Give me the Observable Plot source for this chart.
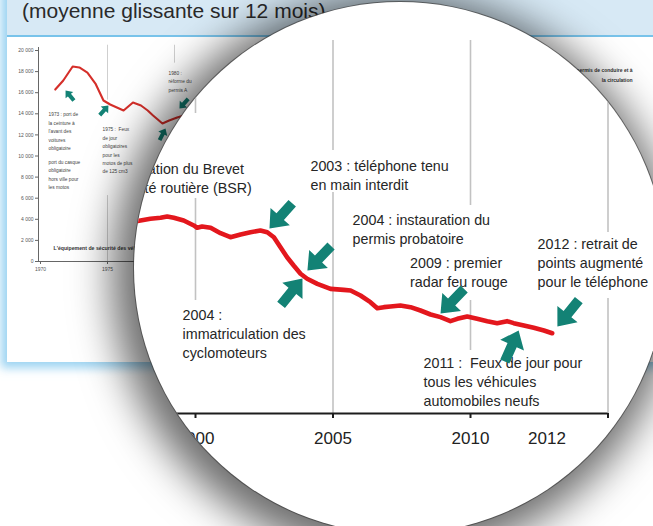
<!DOCTYPE html>
<html>
<head>
<meta charset="utf-8">
<script src="https://cdn.jsdelivr.net/npm/d3@7"></script>
<script src="https://cdn.jsdelivr.net/npm/@observablehq/plot@0.6"></script>
<style>
  html, body { margin: 0; padding: 0; background: #fff; overflow: hidden; }
  #stage { position: relative; width: 653px; height: 526px; overflow: hidden; font-family: "Liberation Sans", Arial, sans-serif; background: #fff; }
  #panel { position: absolute; left: 7px; top: -10px; width: 700px; height: 372px; background: #fff; box-shadow: 0 0 9px 6px rgba(140, 205, 240, 0.85); }
  #band { position: absolute; left: 0; top: 0; width: 700px; height: 45px; background: #d7e9f5; border-bottom: 2px solid #78c3ea; }
  #title { position: absolute; left: 22px; top: 0px; font-size: 21px; line-height: 21px; color: #2a2a2a; white-space: nowrap; }
  #small { position: absolute; left: 0; top: 0; }
  #lens { position: absolute; left: 134px; top: 2px; width: 532px; height: 532px; border-radius: 50%; overflow: hidden; background: #fff;
          box-shadow: 0 0 0 1px rgba(60,60,60,0.65), -6px 8px 42px 16px rgba(0,0,0,0.58); }
  #big { position: absolute; left: -134px; top: -2px; }
</style>
</head>
<body>
<div id="stage">
  <div id="panel"><div id="band"></div></div>
  <div id="small"></div>
  <div id="title">(moyenne glissante sur 12 mois)</div>
  <div id="lens"><div id="big"></div></div>
</div>
<script>
// ---------- background (small) chart data ----------
const smallYears  = [1971.1, 1971.7, 1972.4, 1972.9, 1973.5, 1974.1, 1974.7, 1975.2, 1975.7, 1976.2, 1976.9, 1977.5, 1978.0, 1978.4, 1979.1, 1979.6, 1980.2, 1980.7];
const smallDeaths = [16300, 17160, 18480, 18390, 17910, 16870, 15260, 14880, 14600, 14310, 15070, 14790, 14310, 13840, 13080, 13360, 13650, 13840];
const smallYTicks = [0, 2000, 4000, 6000, 8000, 10000, 12000, 14000, 16000, 18000, 20000];
const smallXTicks = [1970, 1975];
const smallGridYears = [1975, 1975, 1980];
const smallGridFrom  = [20500, 6250, 20500];
const smallGridTo    = [15300, 0, 18800];
const smallNoteTexts = [
  "1973 : port de\nla ceinture à\nl'avant des\nvoitures\nobligatoire",
  "port du casque\nobligatoire\nhors ville pour\nles motos",
  "1975 :  Feux\nde jour\nobligatoires\npour les\nmotos de plus\nde 125 cm3",
  "1980 :\nréforme du\npermis A"
];
const smallNoteYears  = [1970.6, 1970.6, 1974.63, 1979.55];
const smallNoteValues = [14313, 9800, 12891, 18265];
const smallArrowYears  = [1971.87, 1975.07, 1980.37, 1979.33];
const smallArrowValues = [16209, 14787, 14502, 12607];
const smallArrowAngles = [320, 42, 222, 27];

// ---------- magnified chart data ----------
const bigYears = [1997.8, 1998.0, 1998.36, 1998.73, 1998.97, 1999.21, 1999.57, 1999.94, 2000.06, 2000.24, 2000.55, 2000.91,
  2001.27, 2001.64, 2002.0, 2002.36, 2002.61, 2002.85, 2003.09, 2003.33, 2003.57, 2003.82, 2004.06, 2004.43, 2004.91,
  2005.39, 2005.64, 2006.0, 2006.36, 2006.61, 2006.85, 2007.09, 2007.45, 2007.82, 2008.18, 2008.55, 2008.91, 2009.27,
  2009.52, 2009.88, 2010.24, 2010.61, 2010.97, 2011.33, 2011.57, 2011.94, 2012.3, 2012.67, 2012.97];
const bigDeaths = [8650, 8690, 8770, 8815, 8875, 8815, 8695, 8470, 8365, 8425, 8365, 8120,
  7940, 8065, 8165, 8245, 8165, 7940, 7490, 7040, 6665, 6295, 6070, 5840, 5615,
  5570, 5540, 5315, 5015, 4745, 4790, 4820, 4865, 4790, 4640, 4460, 4340, 4160,
  4265, 4370, 4265, 4160, 4070, 4160, 4070, 3965, 3860, 3740, 3615];
const bigTickYears = [2000, 2005, 2010, 2015];
const bigLabelYears = [2000, 2005, 2010, 2012.78];
const bigLabels = ["2000", "2005", "2010", "2012"];
const bigGridYears = [2000, 2000, 2005, 2005, 2010, 2010, 2015, 2015];
const bigGridFrom  = [16800, 9685, 16800, 9955, 16800, 5090, 16800, 5180];
const bigGridTo    = [13514, 5090, 11847, 0, 9369, 2838, 8153, 0];
const noteTexts = [
  "Généralisation du Brevet\nde sécurité routière (BSR)",
  "2003 : téléphone tenu\nen main interdit",
  "2004 : instauration du\npermis probatoire",
  "2009 : premier\nradar feu rouge",
  "2012 : retrait de\npoints augmenté\npour le téléphone",
  "2011 :  Feux de jour pour\ntous les véhicules\nautomobiles neufs",
  "2004 :\nimmatriculation des\ncyclomoteurs"
];
const noteYears  = [1996.04, 2004.18, 2005.71, 2007.80, 2012.44, 2008.29, 1999.53];
const noteValues = [10631, 10788, 8333, 6396, 6815, 1486, 3613];
const arrowYears  = [2002.69, 2004.07, 2003.89, 2008.91, 2011.75, 2013.16];
const arrowValues = [8333, 6441, 6081, 4505, 3739, 3919];
const arrowAngles = [222, 224, 39, 224, 24, 219];

// ---------- helpers ----------
const teal = "#138275";
const frFmt = d => d3.format(",")(d).replace(/,/g, " ");
function blockArrow(shaftW, headW, headL) {
  return {
    draw(context, l) {
      const s = shaftW / 2, h = headW / 2, b = l - headL;
      context.moveTo(-s, 0);
      context.lineTo(-s, -b);
      context.lineTo(-h, -b);
      context.lineTo(0, -l);
      context.lineTo(h, -b);
      context.lineTo(s, -b);
      context.lineTo(s, 0);
      context.closePath();
    }
  };
}
const idx = a => a.map((_, i) => i);

// ---------- small background chart ----------
const small = Plot.plot({
  width: 653, height: 362,
  marginLeft: 38, marginRight: 10, marginTop: 47, marginBottom: 101,
  x: {domain: [1970, 2015], range: [40, 643]},
  y: {domain: [0, 20000], range: [261, 50]},
  style: {background: "transparent", fontFamily: "Liberation Sans, Arial, sans-serif", color: "#555"},
  marks: [
    Plot.ruleX(idx(smallGridYears), {x: i => smallGridYears[i], y1: i => smallGridFrom[i], y2: i => smallGridTo[i], stroke: "#cfcfcf", strokeWidth: 1}),
    Plot.axisY({ticks: smallYTicks, tickSize: 3, tickPadding: 2, tickFormat: frFmt, fontSize: 5, label: null, stroke: "#666"}),
    Plot.frame({anchor: "left", stroke: "#666"}),
    Plot.ruleY([0], {stroke: "#666"}),
    Plot.axisX({ticks: smallXTicks, tickSize: 3, tickPadding: 3, tickFormat: d => String(d), fontSize: 5, label: null, stroke: "#666"}),
    Plot.line(idx(smallYears), {x: i => smallYears[i], y: i => smallDeaths[i], stroke: "#d52f2a", strokeWidth: 2.1, strokeLinejoin: "round"}),
    Plot.text(idx(smallNoteTexts), {x: i => smallNoteYears[i], y: i => smallNoteValues[i], text: i => smallNoteTexts[i],
      textAnchor: "start", lineAnchor: "top", fontSize: 4.8, lineHeight: 1.75, fill: "#444"}),
    Plot.text(["L'équipement de sécurité des véhicules"], {x: 1970.97, y: 1488, textAnchor: "start", lineAnchor: "top", fontSize: 5.2, fontWeight: "bold", fill: "#333"}),
    Plot.text(["permis de conduire et à\nla circulation"], {x: 2014.18, y: 18640, textAnchor: "end", lineAnchor: "top", fontSize: 5, lineHeight: 2, fontWeight: "bold", fill: "#333"}),
    Plot.vector(idx(smallArrowYears), {x: i => smallArrowYears[i], y: i => smallArrowValues[i], rotate: i => smallArrowAngles[i],
      length: 13, anchor: "end", shape: blockArrow(4, 10, 6), fill: teal, stroke: "none"})
  ]
});
document.getElementById("small").appendChild(small);

// ---------- magnified chart (inside the lens) ----------
const big = Plot.plot({
  width: 653, height: 526,
  marginLeft: 0, marginRight: 0, marginTop: 0, marginBottom: 113,
  x: {domain: [2000, 2015], range: [195, 607.5]},
  y: {domain: [0, 18000], range: [413, 413 - 18000 * 0.0222], axis: null},
  style: {background: "transparent", fontFamily: "Liberation Sans, Arial, sans-serif", color: "#222"},
  marks: [
    Plot.ruleX(idx(bigGridYears), {x: i => bigGridYears[i], y1: i => bigGridFrom[i], y2: i => bigGridTo[i], stroke: "#c2c2c2", strokeWidth: 1.6}),
    Plot.ruleY([0], {x1: 1996, x2: 2015, stroke: "#1c1c1c", strokeWidth: 2.2}),
    Plot.axisX({ticks: bigTickYears, tickSize: 5, tickFormat: () => "", stroke: "#1c1c1c", strokeWidth: 2, label: null}),
    Plot.text(idx(bigLabels), {x: i => bigLabelYears[i], y: 0, text: i => bigLabels[i], dy: 25, fontSize: 17, fill: "#222"}),
    Plot.line(idx(bigYears), {x: i => bigYears[i], y: i => bigDeaths[i], stroke: "#e3171d", strokeWidth: 4.6, strokeLinejoin: "round", strokeLinecap: "round"}),
    Plot.text(idx(noteTexts), {x: i => noteYears[i], y: i => noteValues[i], text: i => noteTexts[i],
      textAnchor: "start", lineAnchor: "middle", fontSize: 14.3, lineHeight: 1.33, fill: "#262626"}),
    Plot.vector(idx(arrowYears), {x: i => arrowYears[i], y: i => arrowValues[i], rotate: i => arrowAngles[i],
      length: 34, anchor: "end", shape: blockArrow(10, 26, 16), fill: teal, stroke: "none"})
  ]
});
document.getElementById("big").appendChild(big);
</script>
</body>
</html>
